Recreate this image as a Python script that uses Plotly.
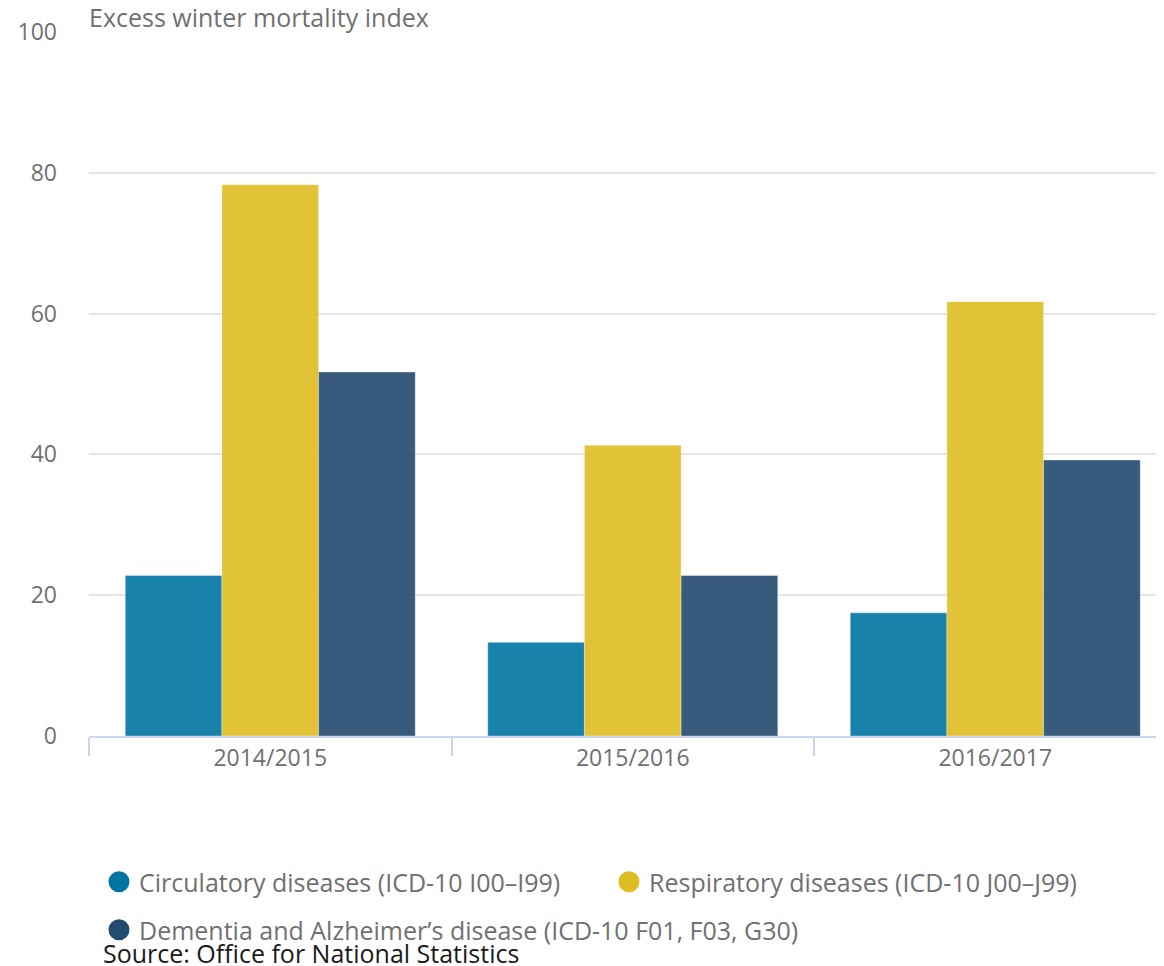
import plotly.graph_objects as go

# ---- data ----
seasons = ["2014/2015", "2015/2016", "2016/2017"]
series_names = [
    "Circulatory diseases (ICD-10 I00–I99)",
    "Respiratory diseases (ICD-10 J00–J99)",
    "Dementia and Alzheimer’s disease (ICD-10 F01, F03, G30)",
]
circulatory = [22.8, 13.3, 17.5]
respiratory = [78.3, 41.3, 61.7]
dementia = [51.7, 22.8, 39.2]
y_ticks = [0, 20, 40, 60, 80, 100]

title_text = "Excess winter mortality index"
source_text = "Source: Office for National Statistics"

# ---- style ----
W, H = 1156, 958
ML, MR, MT, MB = 81, 0, 24, 230
PW, PH = W - ML - MR, H - MT - MB
FONT = "Open Sans"
GREY = "#707070"
colors = ["rgb(0,117,163)", "rgb(223,188,33)", "rgb(35,74,111)"]
legend_ids = ["legend", "legend2", "legend3"]
legend_pos = [(91, 874), (601, 874), (91, 922)]


def px_to_paper(px, py):
    return (px - ML) / PW, (H - MB - py) / PH


fig = go.Figure()
for name, vals, col in zip(series_names, [circulatory, respiratory, dementia], colors):
    fig.add_trace(go.Bar(
        x=seasons, y=vals, name=name, showlegend=False,
        marker=dict(color=col, opacity=0.9,
                    line=dict(color="rgba(255,255,255,0.35)", width=1)),
        hoverinfo="x+y+name",
    ))

for name, col, lid in zip(series_names, colors, legend_ids):
    fig.add_trace(go.Scatter(
        x=[None], y=[None], mode="markers", name=name, legend=lid,
        marker=dict(color=col, size=16, symbol="circle",
                    line=dict(color=col, width=5)),
        showlegend=True, hoverinfo="skip",
    ))

leg_common = dict(font=dict(family=FONT, size=25, color=GREY),
                  bgcolor="rgba(0,0,0,0)",
                  xanchor="left", yanchor="middle", itemsizing="trace")
layout_legends = {}
for lid, (px, py) in zip(legend_ids, legend_pos):
    lx, ly = px_to_paper(px, py)
    layout_legends[lid] = dict(leg_common, x=lx, y=ly)

sx, sy = px_to_paper(93, 945)

fig.update_layout(
    width=W, height=H,
    margin=dict(l=ML, r=MR, t=MT, b=MB),
    plot_bgcolor="white", paper_bgcolor="white",
    barmode="group", bargap=0.2, bargroupgap=0,
    font=dict(family=FONT, size=23, color=GREY),
    title=dict(text=title_text, x=81 / W, xref="container", xanchor="left",
               y=1 - 10 / H, yref="container", yanchor="middle",
               font=dict(family=FONT, size=25, color=GREY)),
    xaxis=dict(
        type="category", range=[-0.5, -0.5 + PW / 362.5],
        showgrid=False, showline=True, linecolor="#ccd6eb", linewidth=2,
        ticks="outside", tickson="boundaries", ticklen=18, tickwidth=2,
        tickcolor="#ccd6eb", tickfont=dict(family=FONT, size=23, color=GREY),
        fixedrange=True,
    ),
    yaxis=dict(
        range=[0, 100], tickvals=y_ticks, showgrid=True, gridcolor="#e6e6e6",
        gridwidth=2, zeroline=False, showline=False, ticks="",
        ticklabelstandoff=31,
        tickfont=dict(family=FONT, size=23, color=GREY),
        fixedrange=True,
    ),
    annotations=[dict(
        text=source_text, xref="paper", yref="paper",
        x=sx, y=sy, xanchor="left", yanchor="middle",
        showarrow=False, font=dict(family=FONT, size=25, color="#1a1a1a"),
    )],
    **layout_legends,
)

fig.write_html("out.html")
